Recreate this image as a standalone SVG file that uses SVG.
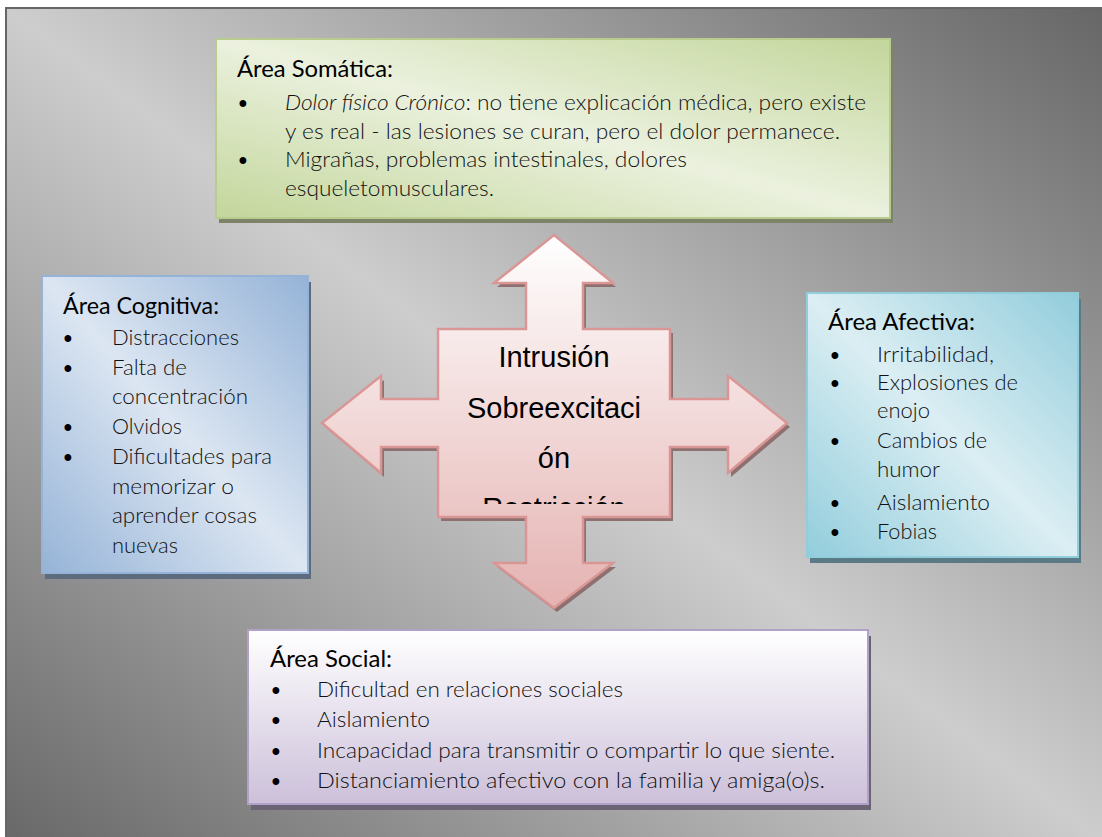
<svg xmlns="http://www.w3.org/2000/svg" width="1102" height="837" viewBox="0 0 1102 837">
  <defs>
    <linearGradient id="gBg" x1="1" y1="0" x2="0" y2="1">
      <stop offset="0" stop-color="#666666"/>
      <stop offset="0.5" stop-color="#cdcdcd"/>
      <stop offset="1" stop-color="#686868"/>
    </linearGradient>
    <linearGradient id="gGreen" x1="1" y1="0" x2="0" y2="1">
      <stop offset="0" stop-color="#c3d69b"/>
      <stop offset="0.5" stop-color="#ebf1de"/>
      <stop offset="1" stop-color="#c3d69b"/>
    </linearGradient>
    <linearGradient id="gBlue" x1="1" y1="0" x2="0" y2="1">
      <stop offset="0" stop-color="#95b3d7"/>
      <stop offset="0.5" stop-color="#dce6f2"/>
      <stop offset="1" stop-color="#95b3d7"/>
    </linearGradient>
    <linearGradient id="gTeal" x1="1" y1="0" x2="0" y2="1">
      <stop offset="0" stop-color="#92cddc"/>
      <stop offset="0.5" stop-color="#dbeef3"/>
      <stop offset="1" stop-color="#92cddc"/>
    </linearGradient>
    <linearGradient id="gPurple" x1="0" y1="0" x2="0" y2="1">
      <stop offset="0" stop-color="#ffffff"/>
      <stop offset="1" stop-color="#ccc0da"/>
    </linearGradient>
    <linearGradient id="gPink" x1="0" y1="0" x2="0" y2="1">
      <stop offset="0" stop-color="#ffffff"/>
      <stop offset="1" stop-color="#e4b2b1"/>
    </linearGradient>
    <clipPath id="clipCross">
      <rect x="440" y="331" width="228" height="173"/>
    </clipPath>
    <path id="crossShape" d="M554,235 L613,283 L583,283 L583,329 L670,329 L670,399 L728,399 L728,376 L787,423 L728,473 L728,447 L670,447 L670,517 L583,517 L583,563 L613,563 L554,608 L494,563 L526,563 L526,517 L438,517 L438,447 L381,447 L381,473 L322,423 L381,376 L381,399 L438,399 L438,329 L526,329 L526,283 L494,283 Z"/>
  </defs>
  <style>
    .title { font-family: Lato, "Open Sans", "Liberation Sans", sans-serif; font-size: 23px; fill: #000; }
    .body { font-family: Lato, "Open Sans", "Liberation Sans", sans-serif; font-size: 21px; font-weight: 300; fill: #111; }
    .bul { font-family: "Liberation Sans", Arial, sans-serif; font-size: 25px; fill: #000; text-anchor: middle; }
    .cross { font-family: "Liberation Sans", Arial, sans-serif; font-size: 29px; fill: #000; text-anchor: middle; }
  </style>

  <g id="background">
    <rect x="6" y="8" width="1100" height="835" fill="url(#gBg)" stroke="#666666" stroke-width="2"/>
  </g>

  <g id="node-somatica">
    <rect x="219" y="44" width="674" height="179" fill="#7c8366"/>
    <rect x="216" y="39" width="674" height="179" fill="url(#gGreen)" stroke="#b7cc8e" stroke-width="2"/>
    <text class="title" x="237" y="77" textLength="156" lengthAdjust="spacingAndGlyphs">Área Somática:</text>
    <text class="bul" x="243" y="112">•</text>
    <text class="body" x="285" y="110" textLength="581" lengthAdjust="spacingAndGlyphs"><tspan font-style="italic">Dolor físico Crónico</tspan>: no tiene explicación médica, pero existe</text>
    <text class="body" x="285" y="138.5" textLength="555" lengthAdjust="spacingAndGlyphs">y es real - las lesiones se curan, pero el dolor permanece.</text>
    <text class="bul" x="243" y="169">•</text>
    <text class="body" x="285" y="167" textLength="402" lengthAdjust="spacingAndGlyphs">Migrañas, problemas intestinales, dolores</text>
    <text class="body" x="285" y="195.5" textLength="209" lengthAdjust="spacingAndGlyphs">esqueletomusculares.</text>
  </g>

  <g id="node-cognitiva">
    <rect x="45" y="282" width="266" height="297" fill="#5d6b7e"/>
    <rect x="42" y="276" width="266" height="297" fill="url(#gBlue)" stroke="#95b3d7" stroke-width="2"/>
    <text class="title" x="63" y="314" textLength="156" lengthAdjust="spacingAndGlyphs">Área Cognitiva:</text>
    <text class="bul" x="68" y="347">•</text>
    <text class="body" x="112" y="345" textLength="127" lengthAdjust="spacingAndGlyphs">Distracciones</text>
    <text class="bul" x="68" y="376.7">•</text>
    <text class="body" x="112" y="374.7" textLength="75" lengthAdjust="spacingAndGlyphs">Falta de</text>
    <text class="body" x="112" y="404.4" textLength="136" lengthAdjust="spacingAndGlyphs">concentración</text>
    <text class="bul" x="68" y="436.1">•</text>
    <text class="body" x="112" y="434.1" textLength="70" lengthAdjust="spacingAndGlyphs">Olvidos</text>
    <text class="bul" x="68" y="465.8">•</text>
    <text class="body" x="112" y="463.8" textLength="160" lengthAdjust="spacingAndGlyphs">Dificultades para</text>
    <text class="body" x="112" y="493.5" textLength="122" lengthAdjust="spacingAndGlyphs">memorizar o</text>
    <text class="body" x="112" y="523.2" textLength="145" lengthAdjust="spacingAndGlyphs">aprender cosas</text>
    <text class="body" x="112" y="553" textLength="66" lengthAdjust="spacingAndGlyphs">nuevas</text>
  </g>

  <g id="node-afectiva">
    <rect x="810" y="299" width="271" height="264" fill="#5a7a85"/>
    <rect x="807" y="293" width="271" height="264" fill="url(#gTeal)" stroke="#92cddc" stroke-width="2"/>
    <text class="title" x="828" y="330" textLength="147" lengthAdjust="spacingAndGlyphs">Área Afectiva:</text>
    <text class="bul" x="835" y="364">•</text>
    <text class="body" x="877" y="362" textLength="117" lengthAdjust="spacingAndGlyphs">Irritabilidad,</text>
    <text class="bul" x="835" y="392">•</text>
    <text class="body" x="877" y="390" textLength="141" lengthAdjust="spacingAndGlyphs">Explosiones de</text>
    <text class="body" x="877" y="418" textLength="53" lengthAdjust="spacingAndGlyphs">enojo</text>
    <text class="bul" x="835" y="450">•</text>
    <text class="body" x="877" y="448" textLength="110" lengthAdjust="spacingAndGlyphs">Cambios de</text>
    <text class="body" x="877" y="477" textLength="63" lengthAdjust="spacingAndGlyphs">humor</text>
    <text class="bul" x="835" y="512">•</text>
    <text class="body" x="877" y="510" textLength="113" lengthAdjust="spacingAndGlyphs">Aislamiento</text>
    <text class="bul" x="835" y="541">•</text>
    <text class="body" x="877" y="539" textLength="60" lengthAdjust="spacingAndGlyphs">Fobias</text>
  </g>

  <g id="node-social">
    <rect x="251" y="636" width="620" height="174" fill="#6a6474"/>
    <rect x="248" y="630" width="620" height="174" fill="url(#gPurple)" stroke="#b2a1c7" stroke-width="2"/>
    <text class="title" x="270" y="667" textLength="122" lengthAdjust="spacingAndGlyphs">Área Social:</text>
    <text class="bul" x="276" y="699">•</text>
    <text class="body" x="317" y="697" textLength="306" lengthAdjust="spacingAndGlyphs">Dificultad en relaciones sociales</text>
    <text class="bul" x="276" y="729">•</text>
    <text class="body" x="317" y="727" textLength="113" lengthAdjust="spacingAndGlyphs">Aislamiento</text>
    <text class="bul" x="276" y="760">•</text>
    <text class="body" x="317" y="758" textLength="518" lengthAdjust="spacingAndGlyphs">Incapacidad para transmitir o compartir lo que siente.</text>
    <text class="bul" x="276" y="790">•</text>
    <text class="body" x="317" y="788" textLength="508" lengthAdjust="spacingAndGlyphs">Distanciamiento afectivo con la familia y amiga(o)s.</text>
  </g>

  <g id="node-center">
    <use href="#crossShape" transform="translate(3,4)" fill="#8f7070"/>
    <use href="#crossShape" fill="url(#gPink)" stroke="#d99694" stroke-width="2.5" stroke-linejoin="miter"/>
    <g clip-path="url(#clipCross)">
      <text class="cross" x="554" y="367">Intrusión</text>
      <text class="cross" x="554" y="418">Sobreexcitaci</text>
      <text class="cross" x="554" y="468">ón</text>
      <text class="cross" x="554" y="518">Restricción</text>
    </g>
  </g>
</svg>
